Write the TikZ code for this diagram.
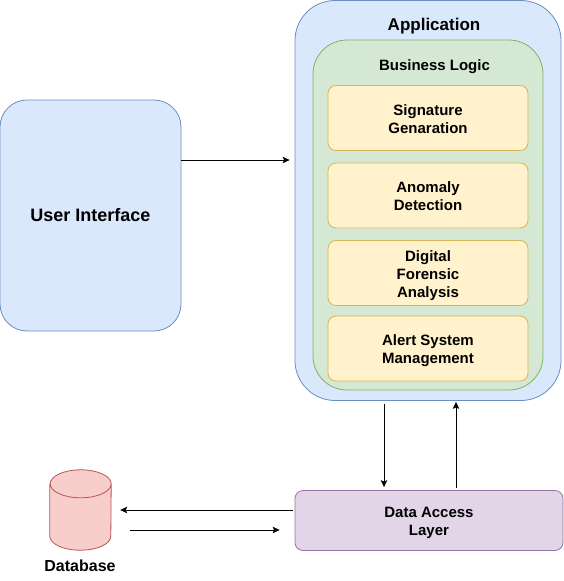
\documentclass[tikz,border=0pt]{standalone}
\usepackage{fontspec}
\setmainfont{Liberation Sans}
\usetikzlibrary{arrows.meta}
\definecolor{bluef}{HTML}{DAE8FC}\definecolor{blued}{HTML}{6C8EBF}
\definecolor{greenf}{HTML}{D5E8D4}\definecolor{greend}{HTML}{82B366}
\definecolor{yellowf}{HTML}{FFF2CC}\definecolor{yellowd}{HTML}{D6B656}
\definecolor{purplef}{HTML}{E1D5E7}\definecolor{purpled}{HTML}{9673A6}
\definecolor{redf}{HTML}{F8CECC}\definecolor{redd}{HTML}{B85450}
\newcommand\topgap[1]{\rule{0pt}{#1pt}}
\tikzset{
  box/.style={rectangle,draw,line width=0.8pt,inner sep=0pt,align=center,font=\bfseries\fontsize{15}{18}\selectfont},
  card/.style={box,fill=yellowf,draw=yellowd,minimum width=200pt,minimum height=65pt,rounded corners=8pt},
  title/.style={inner sep=0pt,font=\bfseries\fontsize{15}{18}\selectfont},
  conn/.style={line width=0.8pt,-{Stealth[length=7pt,width=6.5pt,inset=1.5pt]}}
}
\begin{document}
\begin{tikzpicture}[x=1pt,y=-1pt]
\useasboundingbox (0,0) rectangle (564,581);
\node[box,fill=bluef,draw=blued,minimum width=266pt,minimum height=400pt,rounded corners=40pt] (app) at (428,200.5) {};
\node[title,font=\bfseries\fontsize{17}{20}\selectfont] (apptitle) at (434,26) {Application};
\node[box,fill=greenf,draw=greend,minimum width=230pt,minimum height=350pt,rounded corners=34pt] (logic) at (428,215) {};
\node[title] (logictitle) at (434.5,67) {Business Logic};
\node[card] (sig) at (428,118) {\topgap{13}Signature\\Genaration};
\node[card] (ano) at (428,195.5) {\topgap{13}Anomaly\\Detection};
\node[card] (dig) at (428,273) {\topgap{17}Digital\\Forensic\\Analysis};
\node[card] (ale) at (428,348.5) {\topgap{15}Alert System\\Management};
\node[box,fill=bluef,draw=blued,minimum width=181pt,minimum height=231pt,rounded corners=27pt,font=\bfseries\fontsize{18}{22}\selectfont] (ui) at (90.5,215.5) {User Interface};
\node[box,fill=purplef,draw=purpled,minimum width=268pt,minimum height=60pt,rounded corners=8pt] (dal) at (429,520.5) {\topgap{15}Data Access\\Layer};
\node[rectangle,inner sep=0pt,minimum width=61pt,minimum height=80pt] (db) at (80.5,510) {};
\draw[draw=redd,fill=redf,line width=0.8pt]
  ([yshift=-14pt]db.north west) -- ([yshift=14pt]db.south west)
  arc[start angle=180,end angle=360,x radius=30.5pt,y radius=14pt]
  -- ([yshift=-14pt]db.north east)
  arc[start angle=0,end angle=180,x radius=30.5pt,y radius=14pt]
  arc[start angle=180,end angle=360,x radius=30.5pt,y radius=14pt];
\node[title,font=\bfseries\fontsize{16}{18}\selectfont] (dbtext) at (80,566) {Database};
\coordinate (uia) at (ui.east |- 0,160);
\draw[conn] (uia) -- ([xshift=-5pt]app.west |- uia);
\coordinate (downx) at (384,0);
\coordinate (upx) at (456,0);
\draw[conn] ([yshift=-3pt]app.south -| downx) -- ([yshift=3pt]dal.north -| downx);
\draw[conn] ([yshift=2pt]dal.north -| upx) -- ([yshift=-1pt]app.south -| upx);
\coordinate (ly1) at (0,510);
\coordinate (ly2) at (0,530);
\draw[conn] ([xshift=-2pt]dal.west |- ly1) -- ([xshift=9pt]db.east |- ly1);
\draw[conn] ([xshift=19pt]db.east |- ly2) -- ([xshift=-15pt]dal.west |- ly2);
\end{tikzpicture}
\end{document}
